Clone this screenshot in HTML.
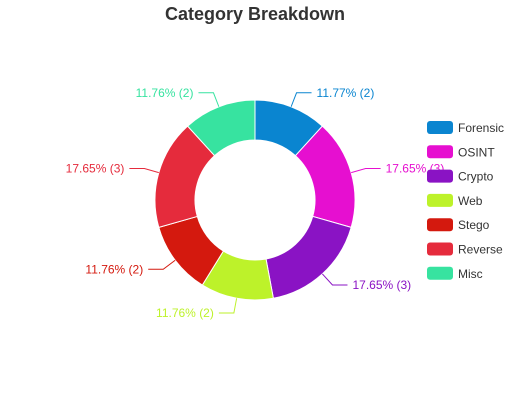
<!DOCTYPE html>
<html><head><meta charset="utf-8"><style>
body{margin:0;background:#fff;font-family:"Liberation Sans",Arial,sans-serif}
</style></head><body>
<svg width="510" height="400" id="c">
<text x="255" y="20" text-anchor="middle" font-size="18" font-weight="bold" fill="#333">Category Breakdown</text>
</svg>
<script>
const categories=["Forensic","OSINT","Crypto","Web","Stego","Reverse","Misc"];
const values=[2,3,3,2,2,3,2];
const labels=["11.77% (2)","17.65% (3)","17.65% (3)","11.76% (2)","11.76% (2)","17.65% (3)","11.76% (2)"];
const colors=["#0a85d0","#e60fd0","#8a13c4","#bdf22a","#d4190e","#e52b3c","#37e3a0"];
const svg=document.getElementById('c');const NS="http://www.w3.org/2000/svg";
const cx=255,cy=200,R=100,r=60;
const total=values.reduce((a,b)=>a+b,0);
function mk(t,a){const e=document.createElementNS(NS,t);for(const k in a)e.setAttribute(k,a[k]);svg.appendChild(e);return e;}
function pt(a,rad){return [cx+rad*Math.sin(a),cy-rad*Math.cos(a)];}
let acc=0;
values.forEach((v,i)=>{
const a0=acc/total*2*Math.PI,a1=(acc+v)/total*2*Math.PI;acc+=v;
const [x0,y0]=pt(a0,R),[x1,y1]=pt(a1,R),[x2,y2]=pt(a1,r),[x3,y3]=pt(a0,r);
const lg=(a1-a0)>Math.PI?1:0;
const p=mk('path',{d:`M${x0},${y0}A${R},${R} 0 ${lg} 1 ${x1},${y1}L${x2},${y2}A${r},${r} 0 ${lg} 0 ${x3},${y3}Z`,fill:colors[i],stroke:'#fff','stroke-width':1});


const am=(a0+a1)/2;const [lx0,ly0]=pt(am,R);const [lx1,ly1]=pt(am,R+15);
const right=Math.sin(am)>=0;const lx2=lx1+(right?15:-15);
const l=mk('polyline',{points:`${lx0},${ly0} ${lx1},${ly1} ${lx2},${ly1}`,fill:'none',stroke:colors[i],'stroke-width':1});


const t=mk('text',{x:lx2+(right?5:-5),y:ly1+4,'text-anchor':right?'start':'end','font-size':12,fill:colors[i]});
t.textContent=labels[i];


});
categories.forEach((c,i)=>{
const y=121+i*24.3;
const g=mk('g',{});


const b=document.createElementNS(NS,'rect');b.setAttribute('x',427);b.setAttribute('y',y);b.setAttribute('width',26);b.setAttribute('height',13);b.setAttribute('rx',3);b.setAttribute('fill',colors[i]);g.appendChild(b);
const t=document.createElementNS(NS,'text');t.setAttribute('x',458);t.setAttribute('y',y+11);t.setAttribute('font-size',12);t.setAttribute('fill','#333');t.textContent=c;g.appendChild(t);
});
</script>
</body></html>
